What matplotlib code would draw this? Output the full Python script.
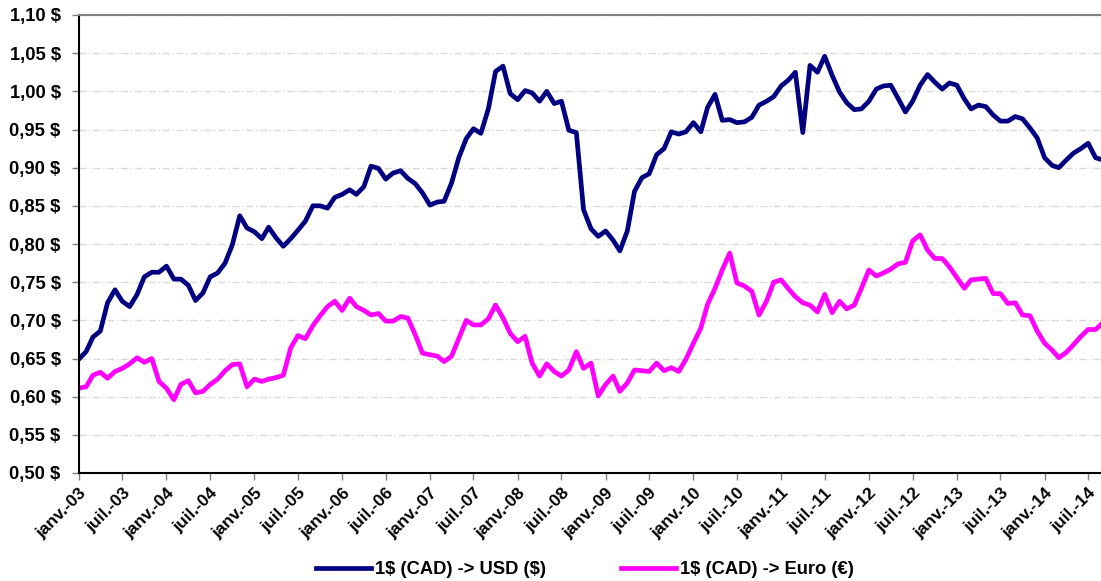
import numpy as np
import pandas as pd
import matplotlib
matplotlib.use("Agg")
import matplotlib.pyplot as plt
import matplotlib.dates as mdates
from matplotlib.ticker import FuncFormatter, MultipleLocator

plt.rcParams['font.family'] = ['Liberation Sans', 'DejaVu Sans']
plt.rcParams['font.weight'] = 'bold'

# monthly rates, janv. 2003 -> sept. 2014
usd = [0.649, 0.659, 0.678, 0.686, 0.723, 0.740, 0.725, 0.718, 0.734, 0.757, 0.763, 0.763,
       0.771, 0.754, 0.754, 0.746, 0.726, 0.736, 0.757, 0.762, 0.775, 0.799, 0.837, 0.821,
       0.816, 0.807, 0.822, 0.808, 0.797, 0.807, 0.818, 0.830, 0.850, 0.850, 0.847, 0.861,
       0.865, 0.871, 0.865, 0.875, 0.902, 0.899, 0.885, 0.893, 0.896, 0.886, 0.879, 0.867,
       0.851, 0.855, 0.856, 0.880, 0.913, 0.938, 0.951, 0.945, 0.977, 1.026, 1.033, 0.997,
       0.989, 1.001, 0.998, 0.987, 1.000, 0.984, 0.987, 0.949, 0.946, 0.845, 0.820, 0.810,
       0.817, 0.805, 0.791, 0.817, 0.869, 0.887, 0.892, 0.917, 0.925, 0.947, 0.944, 0.947,
       0.959, 0.947, 0.979, 0.996, 0.962, 0.963, 0.959, 0.960, 0.966, 0.982, 0.987, 0.993,
       1.007, 1.015, 1.025, 0.946, 1.034, 1.025, 1.046, 1.021, 0.999, 0.985, 0.976, 0.977,
       0.987, 1.003, 1.007, 1.008, 0.991, 0.973, 0.987, 1.008, 1.022, 1.012, 1.003, 1.011,
       1.008, 0.990, 0.977, 0.982, 0.980, 0.969, 0.961, 0.961, 0.967, 0.964, 0.952, 0.939,
       0.913, 0.903, 0.900, 0.910, 0.919, 0.925, 0.932, 0.913, 0.910]
euro = [0.611, 0.613, 0.628, 0.632, 0.624, 0.633, 0.637, 0.643, 0.651, 0.645, 0.650, 0.620,
        0.611, 0.596, 0.616, 0.621, 0.605, 0.607, 0.616, 0.623, 0.634, 0.642, 0.643, 0.613,
        0.623, 0.620, 0.623, 0.625, 0.628, 0.664, 0.680, 0.676, 0.693, 0.706, 0.718, 0.725,
        0.713, 0.729, 0.718, 0.713, 0.707, 0.709, 0.699, 0.699, 0.705, 0.703, 0.681, 0.657,
        0.655, 0.653, 0.646, 0.653, 0.676, 0.700, 0.694, 0.694, 0.702, 0.720, 0.703, 0.683,
        0.672, 0.679, 0.644, 0.627, 0.643, 0.633, 0.627, 0.635, 0.659, 0.637, 0.644, 0.601,
        0.616, 0.627, 0.607, 0.618, 0.635, 0.634, 0.633, 0.644, 0.634, 0.638, 0.633, 0.649,
        0.670, 0.690, 0.721, 0.742, 0.766, 0.788, 0.749, 0.745, 0.738, 0.707, 0.725, 0.750,
        0.753, 0.741, 0.731, 0.723, 0.720, 0.711, 0.734, 0.710, 0.725, 0.715, 0.720, 0.742,
        0.766, 0.758, 0.762, 0.767, 0.774, 0.776, 0.804, 0.812, 0.792, 0.781, 0.781, 0.770,
        0.756, 0.742, 0.753, 0.754, 0.755, 0.735, 0.735, 0.722, 0.723, 0.707, 0.706, 0.686,
        0.670, 0.661, 0.651, 0.658, 0.668, 0.679, 0.688, 0.688, 0.697]
dates = pd.date_range("2003-01-01", periods=len(usd), freq="MS")
month_names = {1: "janv.", 7: "juil."}
labels = [r"1\$ (CAD) -> USD (\$)", r"1\$ (CAD) -> Euro (€)"]

fig = plt.figure(figsize=(11.01, 5.81), dpi=100)
ax = fig.add_axes([78.7 / 1101, 1 - 473 / 581, (1101 - 78.7) / 1101, 458 / 581])

ax.plot(dates, usd, color="#000080", lw=3.4, label=labels[0], solid_joinstyle="round")
ax.plot(dates, euro, color="#FF00FF", lw=3.4, label=labels[1], solid_joinstyle="round")

ax.set_ylim(0.50, 1.10)
ax.yaxis.set_major_locator(MultipleLocator(0.05))
ax.yaxis.set_major_formatter(FuncFormatter(lambda v, p: f"{v:.2f} $".replace(".", ",")))
ax.grid(axis="y", color="#d9d9d9", linestyle=(0, (5, 2, 1, 2)), lw=1)
ax.set_axisbelow(True)

start = pd.Timestamp("2003-01-01")
ax.set_xlim(start, start + pd.Timedelta(days=139.7 * 30.44))
ax.xaxis.set_major_locator(mdates.MonthLocator(bymonth=[1, 7]))
ax.xaxis.set_major_formatter(FuncFormatter(
    lambda v, p: month_names.get(mdates.num2date(v).month, "") + "-" + mdates.num2date(v).strftime("%y")))

for lab in ax.get_xticklabels():
    lab.set_rotation(45)
    lab.set_ha("right")
    lab.set_rotation_mode("anchor")
ax.tick_params(axis="x", labelsize=12.5, length=5, width=1, color="#808080", pad=4)
ax.tick_params(axis="y", labelsize=13.2, length=5, width=1, color="#808080", pad=8)

ax.spines["left"].set_linewidth(1.5)
ax.spines["bottom"].set_linewidth(1.5)
ax.spines["top"].set_color("#808080")
ax.spines["top"].set_linewidth(1.5)
ax.spines["right"].set_visible(False)

fig.legend(loc="center", bbox_to_anchor=(0.531, 0.019), ncol=2, frameon=False,
           fontsize=13.2, handlelength=3.0, handletextpad=0.22, columnspacing=4.1)

fig.savefig("out.png", dpi=100)
